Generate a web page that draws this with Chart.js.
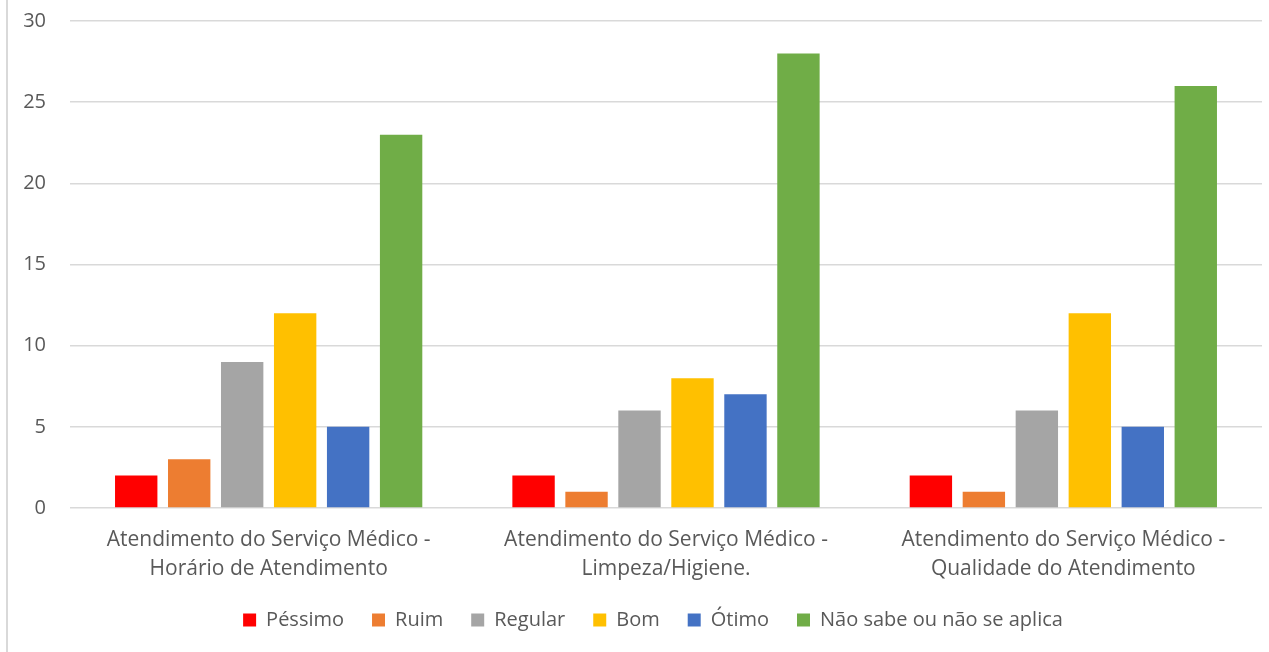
<!DOCTYPE html>
<html>
<head>
<meta charset="utf-8">
<script src="https://cdn.jsdelivr.net/npm/chart.js@4"></script>
<style>
  html, body { margin: 0; padding: 0; background: #fff; }
  #wrap { position: relative; width: 1269px; height: 652px; }
  #frame { position: absolute; left: 6px; top: 0; width: 0; height: 652px; border-left: 2px solid #d9d9d9; }
  canvas { position: absolute; left: 0; top: 0; }
</style>
</head>
<body>
<div id="wrap">
  <div id="frame"></div>
  <canvas id="chart" width="1269" height="652"></canvas>
</div>
<script>
// categories (two-line labels, as on the axis)
var categories = [
    ['Atendimento do Serviço Médico -', 'Horário de Atendimento'],
    ['Atendimento do Serviço Médico -', 'Limpeza/Higiene.'],
    ['Atendimento do Serviço Médico -', 'Qualidade do Atendimento']
];
// one array per rating
var pessimo = [2, 2, 2];
var ruim = [3, 1, 1];
var regular = [9, 6, 6];
var bom = [12, 8, 12];
var otimo = [5, 7, 5];
var naoSabe = [23, 28, 26];

var seriesNames = ['Péssimo', 'Ruim', 'Regular', 'Bom', 'Ótimo', 'Não sabe ou não se aplica'];
var seriesValues = [pessimo, ruim, regular, bom, otimo, naoSabe];
var seriesColors = ['#FF0000', '#ED7D31', '#A5A5A5', '#FFC000', '#4472C4', '#70AD47'];

var datasets = [];
for (var i = 0; i < seriesNames.length; i++) {
    datasets.push({
        label: seriesNames[i],
        data: seriesValues[i],
        backgroundColor: seriesColors[i],
        borderWidth: 0,
        categoryPercentage: 0.8,
        barPercentage: 0.8
    });
}

var fontFamily = '"Open Sans", sans-serif';
var textColor = '#595959';

// the original legend sits a little right of the canvas centre
var shiftLegend = {
    id: 'shiftLegend',
    afterLayout: function(chart) {
        if (chart.legend) {
            chart.legend.left += 22;
            chart.legend.right += 22;
        }
    }
};

new Chart(document.getElementById('chart'), {
    type: 'bar',
    data: { labels: categories, datasets: datasets },
    plugins: [shiftLegend],
    options: {
        responsive: false,
        animation: false,
        layout: { padding: { top: 21, right: 7, bottom: 12, left: 0 } },
        plugins: {
            tooltip: { enabled: false },
            legend: {
                position: 'bottom',
                labels: {
                    color: textColor,
                    font: { family: fontFamily, size: 20 },
                    boxWidth: 13,
                    boxHeight: 13,
                    padding: 28
                }
            }
        },
        scales: {
            x: {
                grid: { display: false },
                border: { display: false },
                ticks: {
                    color: textColor,
                    font: { family: fontFamily, size: 21, lineHeight: 1.38 },
                    maxRotation: 0,
                    padding: 10
                },
                afterFit: function(scale) { scale.height = 74; }
            },
            y: {
                min: 0,
                max: 30,
                ticks: {
                    stepSize: 5,
                    color: textColor,
                    font: { family: fontFamily, size: 20 },
                    padding: 24
                },
                grid: { color: '#d9d9d9', lineWidth: 1.5, drawTicks: false },
                border: { display: false },
                afterFit: function(scale) {
                    scale.width = 70;
                    scale.paddingTop = 0;
                    scale.paddingBottom = 0;
                }
            }
        }
    }
});
</script>
</body>
</html>
